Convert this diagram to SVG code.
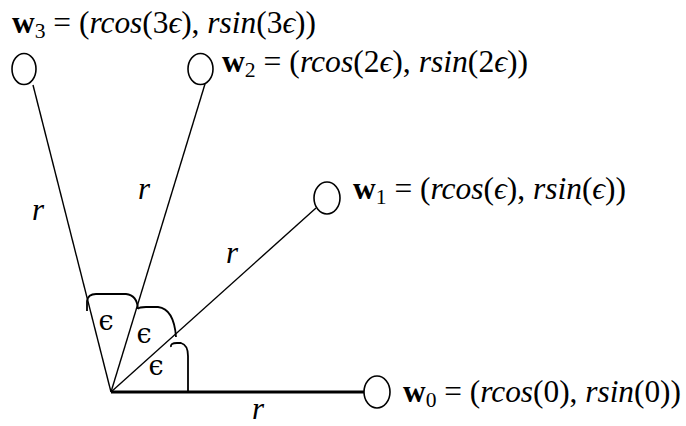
<svg xmlns="http://www.w3.org/2000/svg" width="686" height="426" viewBox="0 0 686 426">
<style>
.node ellipse{fill:none;stroke:#000;stroke-width:1.6}
.edge{stroke:#000;stroke-width:1.4;fill:none}
.thick{stroke-width:3}
.arc{stroke:#000;stroke-width:1.8;fill:none}
.math{font-family:"Liberation Serif","DejaVu Serif",serif;font-size:32px;fill:#000}
.b{font-weight:bold;font-style:normal}
.i{font-style:italic}
.sub{font-size:22px}
.lbl{font-family:"Liberation Serif","DejaVu Serif",serif;font-size:31px;font-style:italic;fill:#000}
.eps{font-family:"DejaVu Serif","Liberation Serif",serif;font-size:27px;fill:#000;text-anchor:middle}
</style>
<rect width="686" height="426" fill="#fff"/>
<g id="connectors">
<line class="edge" x1="111" y1="392" x2="33" y2="85"/>
<line class="edge" x1="111" y1="392" x2="205" y2="84"/>
<line class="edge" x1="111" y1="392" x2="316" y2="208"/>
<line class="edge thick" x1="111" y1="392" x2="364" y2="392"/>
<path class="arc" d="M87,311 L87,301 Q88,294 96,294 L126,294 Q137,295 138,309"/>
<path class="arc" d="M138,309 Q139,307 146,307 L158,307 Q174,309 176,337"/>
<path class="arc" d="M171,347 Q170,343 177,343 L181,343 Q188,345 188,356 L188,391"/>
<text class="eps" x="106" y="330">ϵ</text>
<text class="eps" x="144" y="343">ϵ</text>
<text class="eps" x="156" y="375">ϵ</text>
<text class="lbl" x="32" y="220">r</text>
<text class="lbl" x="138" y="199">r</text>
<text class="lbl" x="226" y="263">r</text>
<text class="lbl" x="252" y="419">r</text>
</g>
<g id="w3" class="node">
<ellipse cx="24" cy="69" rx="12" ry="15.5"/>
<text class="math" x="12" y="33" textLength="304" lengthAdjust="spacingAndGlyphs"><tspan class="b">w</tspan><tspan class="sub" dy="5">3</tspan><tspan dy="-5"> = (</tspan><tspan class="i">rcos</tspan>(3<tspan class="i">ϵ</tspan>), <tspan class="i">rsin</tspan>(3<tspan class="i">ϵ</tspan>))</text>
</g>
<g id="w2" class="node">
<ellipse cx="200.5" cy="69" rx="12.5" ry="15.5"/>
<text class="math" x="222" y="72" textLength="306" lengthAdjust="spacingAndGlyphs"><tspan class="b">w</tspan><tspan class="sub" dy="5">2</tspan><tspan dy="-5"> = (</tspan><tspan class="i">rcos</tspan>(2<tspan class="i">ϵ</tspan>), <tspan class="i">rsin</tspan>(2<tspan class="i">ϵ</tspan>))</text>
</g>
<g id="w1" class="node">
<ellipse cx="327" cy="198" rx="13" ry="16"/>
<text class="math" x="353" y="199" textLength="273" lengthAdjust="spacingAndGlyphs"><tspan class="b">w</tspan><tspan class="sub" dy="5">1</tspan><tspan dy="-5"> = (</tspan><tspan class="i">rcos</tspan>(<tspan class="i">ϵ</tspan>), <tspan class="i">rsin</tspan>(<tspan class="i">ϵ</tspan>))</text>
</g>
<g id="w0" class="node">
<ellipse cx="377" cy="392" rx="13" ry="16"/>
<text class="math" x="403" y="402" textLength="278" lengthAdjust="spacingAndGlyphs"><tspan class="b">w</tspan><tspan class="sub" dy="5">0</tspan><tspan dy="-5"> = (</tspan><tspan class="i">rcos</tspan>(0), <tspan class="i">rsin</tspan>(0))</text>
</g>
</svg>
